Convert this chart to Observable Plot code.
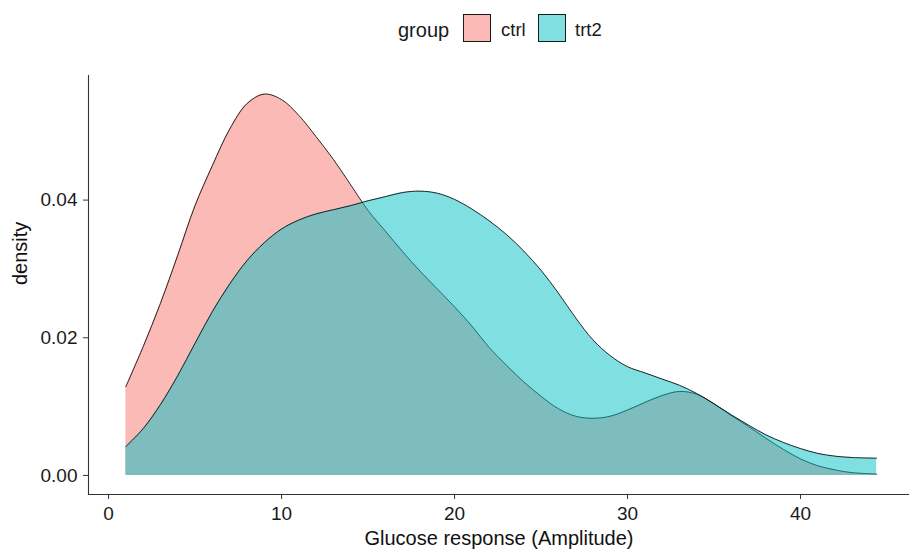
<!DOCTYPE html>
<html>
<head>
<meta charset="utf-8">
<script src="https://cdn.jsdelivr.net/npm/d3@7"></script>
<script src="https://cdn.jsdelivr.net/npm/@observablehq/plot@0.6"></script>
<style>
  html, body { margin: 0; padding: 0; background: #fff; }
  body { width: 909px; height: 555px; overflow: hidden; font-family: "Liberation Sans", Arial, sans-serif; }
  #legend { position: relative; height: 60px; width: 909px; }
  #legend .lab { position: absolute; line-height: 1; color: #1a1a1a; white-space: nowrap; }
  #legend .key { position: absolute; width: 28px; height: 28px; box-sizing: border-box; border: 1.3px solid #1a1a1a; }
  #chart svg { display: block; }
</style>
</head>
<body>
<div id="legend"></div>
<div id="chart"></div>
<script>
// Kernel density estimates of glucose response, one curve per group
const groups = ["ctrl", "trt2"];
const groupColors = ["#F8766D", "#00BFC4"];

const ctrlX = [1, 2, 3, 4, 5, 6, 7, 8, 9, 10, 11, 12, 13, 14, 15, 16, 17, 18, 19, 20, 21, 22, 23, 24, 25, 26, 27, 28, 29, 30, 31, 32, 33, 34, 35, 36, 37, 38, 39, 40, 41, 42, 43, 44.4];
const ctrlDensity = [0.0129, 0.0187, 0.0250, 0.0320, 0.0392, 0.0450, 0.0503, 0.0540, 0.0554, 0.0546, 0.0523, 0.0492, 0.0459, 0.0422, 0.0385, 0.0355, 0.0325, 0.0297, 0.0271, 0.0245, 0.0217, 0.0186, 0.0160, 0.0136, 0.0115, 0.0097, 0.0086, 0.0083, 0.0086, 0.0095, 0.0106, 0.0116, 0.0122, 0.0118, 0.0104, 0.0087, 0.0071, 0.0054, 0.0038, 0.0024, 0.0014, 0.0008, 0.0004, 0.0002];

const trt2X = [1, 2, 3, 4, 5, 6, 7, 8, 9, 10, 11, 12, 13, 14, 15, 16, 17, 18, 19, 20, 21, 22, 23, 24, 25, 26, 27, 28, 29, 30, 31, 32, 33, 34, 35, 36, 37, 38, 39, 40, 41, 42, 43, 44.4];
const trt2Density = [0.0042, 0.0068, 0.0103, 0.0145, 0.0192, 0.0238, 0.0278, 0.0312, 0.0338, 0.0358, 0.0371, 0.0380, 0.0386, 0.0392, 0.0399, 0.0405, 0.0411, 0.0413, 0.0410, 0.0401, 0.0387, 0.0370, 0.0350, 0.0326, 0.0298, 0.0265, 0.0229, 0.0197, 0.0174, 0.0158, 0.0149, 0.0140, 0.0131, 0.0119, 0.0104, 0.0088, 0.0073, 0.0059, 0.0048, 0.0039, 0.0032, 0.0028, 0.0026, 0.0025];

const xTicks = [0, 10, 20, 30, 40];
const yTicks = [0, 0.02, 0.04];
const xTitle = "Glucose response (Amplitude)";
const yTitle = "density";
const legendTitle = "group";

const series = [
  ctrlX.map((x, i) => ({group: "ctrl", x, density: ctrlDensity[i]})),
  trt2X.map((x, i) => ({group: "trt2", x, density: trt2Density[i]}))
];

// Legend above the plot
const legend = document.getElementById("legend");
function addLabel(text, left, top, size) {
  const el = document.createElement("div");
  el.className = "lab";
  el.textContent = text;
  el.style.left = left + "px";
  el.style.top = top + "px";
  el.style.fontSize = size + "px";
  legend.appendChild(el);
}
addLabel(legendTitle, 398, 20, 20);
const keyLeft = [463, 538];
const textLeft = [501, 575];
groups.forEach((g, i) => {
  const key = document.createElement("div");
  key.className = "key";
  key.style.left = keyLeft[i] + "px";
  key.style.top = "14px";
  const c = d3.color(groupColors[i]);
  c.opacity = 0.5;
  key.style.background = c.formatRgb();
  legend.appendChild(key);
  addLabel(g, textLeft[i], 21, 18.5);
});

const curve = "catmull-rom";
const marks = [];
series.forEach((data, i) => {
  marks.push(Plot.areaY(data, {x: "x", y: "density", fill: groupColors[i], fillOpacity: 0.5, curve}));
  marks.push(Plot.lineY(data, {x: "x", y: "density", stroke: "#111", strokeWidth: 0.9, curve}));
});

const chart = Plot.plot({
  width: 909,
  height: 495,
  marginTop: 15,
  marginBottom: 61,
  marginLeft: 88,
  marginRight: 0,
  style: {fontFamily: "\"Liberation Sans\", Arial, sans-serif", background: "#fff"},
  x: {domain: [-1.16, 46.3]},
  y: {domain: [-0.00277, 0.0581]},
  marks: [
    ...marks,
    Plot.frame({anchor: "left", stroke: "#333", strokeWidth: 1.1}),
    Plot.frame({anchor: "bottom", stroke: "#333", strokeWidth: 1.1}),
    Plot.axisX({ticks: xTicks, tickSize: 5, tickPadding: 7, fontSize: 19, color: "#1a1a1a", stroke: "#333", label: null}),
    Plot.axisY({ticks: yTicks, tickFormat: d3.format(".2f"), tickSize: 5, tickPadding: 6, fontSize: 19, color: "#1a1a1a", stroke: "#333", label: null}),
    Plot.text([xTitle], {frameAnchor: "bottom", dy: 50, fontSize: 20, fill: "#111"}),
    Plot.text([yTitle], {frameAnchor: "left", dx: -68, rotate: -90, fontSize: 20, fill: "#111"})
  ]
});
document.getElementById("chart").appendChild(chart);
</script>
</body>
</html>
